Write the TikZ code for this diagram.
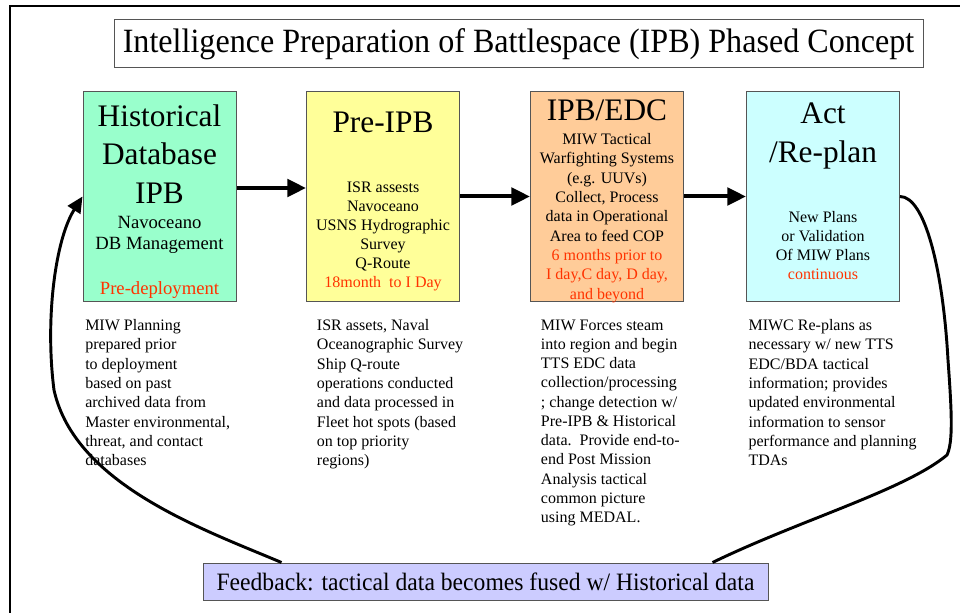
\documentclass[tikz,border=0pt]{standalone}
\usepackage{fontspec}
\setmainfont{Liberation Serif}
\usepackage{graphicx}
\usetikzlibrary{arrows.meta,calc}
\definecolor{fillgreen}{HTML}{99FFCC}
\definecolor{fillyellow}{HTML}{FFFF99}
\definecolor{fillorange}{HTML}{FFCC99}
\definecolor{fillcyan}{HTML}{CCFFFF}
\definecolor{fillviolet}{HTML}{CCCCFF}
\definecolor{redtxt}{HTML}{FF3300}
\definecolor{boxline}{HTML}{555555}
\begin{document}
\begin{tikzpicture}[x=0.75pt,y=-0.75pt,
  phasebox/.style={draw=boxline, line width=0.75pt, minimum width=114.75pt, minimum height=156.75pt, inner sep=0pt},
  bigtxt/.style={anchor=north, align=center, inner sep=0pt, font=\fontsize{23.5}{28.9}\selectfont},
  midtxt/.style={anchor=north, align=center, inner sep=0pt, font=\fontsize{14}{15.75}\selectfont},
  smalltxt/.style={anchor=north, align=center, inner sep=0pt, font=\fontsize{12}{14.4}\selectfont},
  desc/.style={anchor=north west, align=left, inner sep=0pt, font=\fontsize{12}{14.45}\selectfont},
  flow/.style={line width=3pt, -{Triangle[length=14pt,width=13pt]}},
  loopline/.style={line width=2.2pt},
]
\useasboundingbox (0,0) rectangle (960,613);
% frame
\draw[line width=2pt] (960,6) -- (10,6) -- (10,613);
% title
\node[draw=boxline, line width=0.75pt, minimum width=606.75pt, minimum height=36pt, inner sep=0pt] (title) at (518.5,44)
  {\scalebox{0.944}[1]{\fontsize{25.5}{30}\selectfont Intelligence Preparation of Battlespace (IPB) Phased Concept}};
% phase boxes
\node[phasebox, fill=fillgreen]  (b1) at (159.5,196.5) {};
\node[phasebox, fill=fillyellow] (b2) at (383,196.5) {};
\node[phasebox, fill=fillorange] (b3) at (607,196.5) {};
\node[phasebox, fill=fillcyan]   (b4) at (823,196.5) {};
% box 1 texts
\node[bigtxt] (t1a) at (159.5,104) {Historical\\Database\\IPB};
\node[midtxt] (t1b) at (159.5,216) {Navoceano\\DB Management};
\node[midtxt, text=redtxt] (t1c) at (159.5,281.5) {Pre-deployment};
% box 2 texts
\node[bigtxt] (t2a) at (383,111.5) {Pre-IPB};
\node[smalltxt, font=\fontsize{12}{14.25}\selectfont] (t2b) at (383,181.7) {ISR assests\\Navoceano\\USNS Hydrographic\\Survey\\Q-Route\\\textcolor{redtxt}{18month\ \ to I Day}};
% box 3 texts
\node[bigtxt] (t3a) at (607,99.5) {IPB/EDC};
\node[smalltxt, font=\fontsize{12}{14.5}\selectfont] (t3b) at (607,133) {MIW Tactical\\Warfighting Systems\\(e.g. UUVs)\\Collect, Process\\data in Operational\\Area to feed COP\\\textcolor{redtxt}{6 months prior to}\\\textcolor{redtxt}{I day,C day, D day,}\\\textcolor{redtxt}{and beyond}};
% box 4 texts
\node[bigtxt] (t4a) at (823,103) {Act\\/Re-plan};
\node[smalltxt, font=\fontsize{12}{14.3}\selectfont] (t4b) at (823,211) {New Plans\\or Validation\\Of MIW Plans\\\textcolor{redtxt}{continuous}};
% descriptions
\node[desc] (d1) at (85,319.3) {MIW Planning\\prepared prior\\to deployment\\based on past\\archived data from\\Master environmental,\\threat, and contact\\databases};
\node[desc] (d2) at (316.7,319.3) {ISR assets, Naval\\Oceanographic Survey\\Ship Q-route\\operations conducted\\and data processed in\\Fleet hot spots (based\\on top priority\\regions)};
\node[desc] (d3) at (540.7,319.3) {MIW Forces steam\\into region and begin\\TTS EDC data\\collection/processing\\; change detection w/\\Pre-IPB \& Historical\\data.\ \ Provide end-to-\\end Post Mission\\Analysis tactical\\common picture\\using MEDAL.};
\node[desc] (d4) at (748.3,319.3) {MIWC Re-plans as\\necessary w/ new TTS\\EDC/BDA tactical\\information; provides\\updated environmental\\information to sensor\\performance and planning\\TDAs};
% feedback
\node[draw=boxline, line width=0.75pt, fill=fillviolet, minimum width=423.75pt, minimum height=27.75pt, inner sep=0pt] (fb) at (485.5,581.5)
  {\scalebox{0.945}[1]{\fontsize{18.75}{22}\selectfont Feedback: tactical data becomes fused w/ Historical data}};
\coordinate (fbL) at ($(fb.north west)+(79,0)$);
\coordinate (fbR) at ($(fb.north west)+(510,0)$);
% flow arrows
\draw[flow] ($(b1.east)+(0,-8.5)$) -- ($(b2.west)+(0,-8.5)$);
\draw[flow] (b2.east) -- (b3.west);
\draw[flow] (b3.east) -- (b4.west);
% feedback loop
\draw[loopline] (b4.east) .. controls +(25,0) and (943,270) .. (948,360)
  .. controls (952,415) and (953,442) .. (947,455)
  .. controls (905,490) and (800,520) .. (fbR);
\draw[loopline, -{Triangle[length=12pt,width=11pt]}] (fbL) .. controls (205,530) and (75,485) .. (54,390)
  .. controls (45,320) and (55,240) .. (b1.west);
\end{tikzpicture}
\end{document}
